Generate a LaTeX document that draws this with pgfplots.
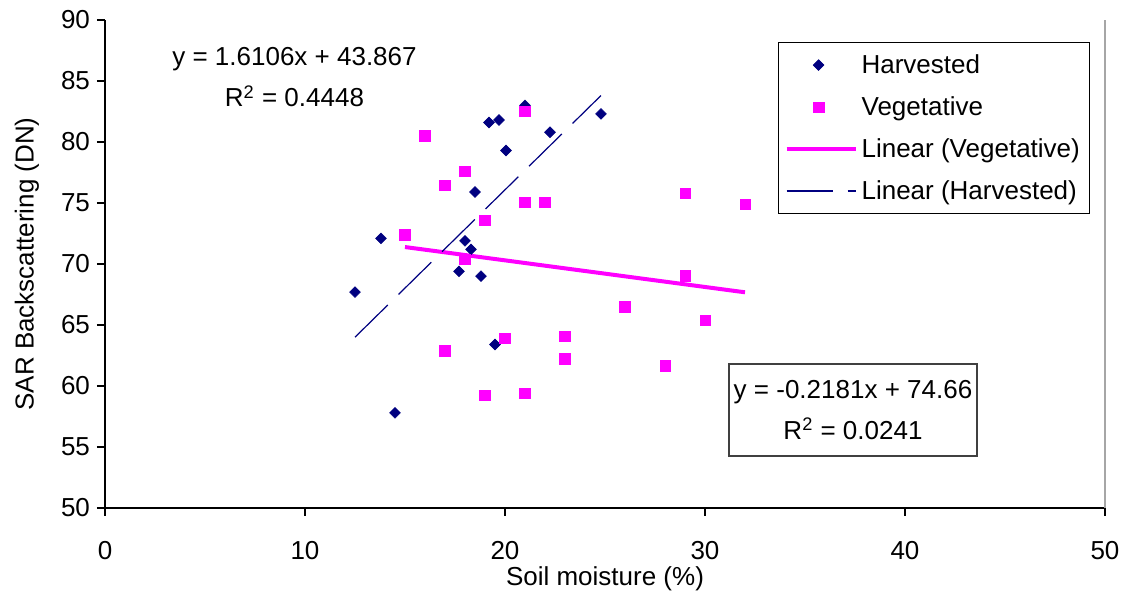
\documentclass[border=0pt]{standalone}
\usepackage{fontspec}
\setmainfont{Liberation Sans}
\usepackage{pgfplots}
\pgfplotsset{compat=1.18}
\definecolor{hnavy}{RGB}{0,0,128}
\definecolor{vmag}{RGB}{255,0,255}
\newcommand{\cf}{\fontsize{13}{15}\selectfont}
\pgfplotsset{
  markleg/.style={legend image code/.code={\path[draw=none,fill=none] (0pt,0pt) (34.5pt,0pt);
    \draw[##1, only marks] plot coordinates {(16pt,0pt)};}},
  lineleg/.style={legend image code/.code={\draw[##1] (0pt,0pt) -- (34.5pt,0pt);}},
}
\begin{document}
\begin{tikzpicture}
\begin{axis}[
  width=500pt, height=244pt, scale only axis,
  xmin=0, xmax=50, ymin=50, ymax=90,
  xtick={0,10,20,30,40,50}, ytick={50,55,60,65,70,75,80,85,90},
  axis x line*=bottom, axis y line*=left,
  axis line style={-, black, line width=0.6pt},
  tick align=outside, major tick length=4pt,
  tick style={black, line width=0.6pt},
  /pgf/number format/assume math mode=true,
  tick label style={font=\cf},
  xticklabel style={yshift=-9pt},
  label style={font=\cf},
  xlabel={Soil moisture (\%)},
  ylabel={SAR Backscattering (DN)},
  xlabel style={at={(axis description cs:0.5,-0.146)}, anchor=center},
  ylabel style={at={(axis description cs:-0.078,0.5)}, anchor=center},
  clip=false,
  legend cell align=left,
  legend style={at={(0.673,0.955)}, anchor=north west, draw=black, line width=0.6pt,
    fill=white, font=\cf, row sep=4.5pt, inner sep=3pt,
    nodes={text height=10.5pt, text depth=2pt, inner sep=2pt}},
]
\addplot[hnavy, only marks, mark=square*, mark size=1.9pt,
  mark options={solid, rotate=45, draw=hnavy, fill=hnavy, line width=0.3pt}, markleg]
coordinates {
(12.5,67.7) (13.8,72.1) (14.5,57.8) (17.7,69.4) (18.0,71.9) (18.3,71.2)
(18.5,75.9) (18.8,69.0) (19.2,81.6) (19.5,63.4) (19.7,81.8) (20.05,79.3)
(21.0,83.0) (22.25,80.8) (24.8,82.3)
};
\addlegendentry{Harvested}
\addplot[vmag, only marks, mark=square*, mark size=2.6pt,
  mark options={solid, draw=vmag, fill=vmag, line width=0.3pt}, markleg]
coordinates {
(15,72.4) (16,80.5) (17,76.45) (17,62.9) (18,77.6) (18,70.4) (19,73.6)
(19,59.26) (20,63.9) (21,82.5) (21,75.08) (21,59.4) (22,75.08) (23,64.07)
(23,62.24) (26,66.5) (28,61.66) (29,75.8) (29,69.04) (30,65.4) (32,74.9)
};
\addlegendentry{Vegetative}
\addplot[vmag, line width=2pt, no marks, lineleg]
coordinates {(15,71.39) (32,67.68)};
\addlegendentry{Linear (Vegetative)}
\addplot[hnavy, line width=0.6pt, no marks, dash pattern=on 23pt off 7.5pt, lineleg]
coordinates {(12.5,64.00) (24.8,83.81)};
\addlegendentry{Linear (Harvested)}
\draw[gray!70, line width=0.7pt] (axis cs:50,50) -- (axis cs:50,90);
\node[align=center, font=\fontsize{13}{20.5}\selectfont] at (axis cs:9.475,85.3)
  {y = 1.6106x + 43.867\\R\textsuperscript{2} = 0.4448};
\node[draw=black!75, line width=0.6pt, fill=white, align=center, minimum width=124pt,
  minimum height=46pt, inner sep=0pt, font=\fontsize{13}{20.5}\selectfont]
  at (axis cs:37.4,58.03) {y = -0.2181x + 74.66\\R\textsuperscript{2} = 0.0241};
\end{axis}
\pgfresetboundingbox
\path[use as bounding box] (current axis.south west) ++(-52.5pt,-45pt) rectangle ++(566pt,299pt);
\end{tikzpicture}
\end{document}
